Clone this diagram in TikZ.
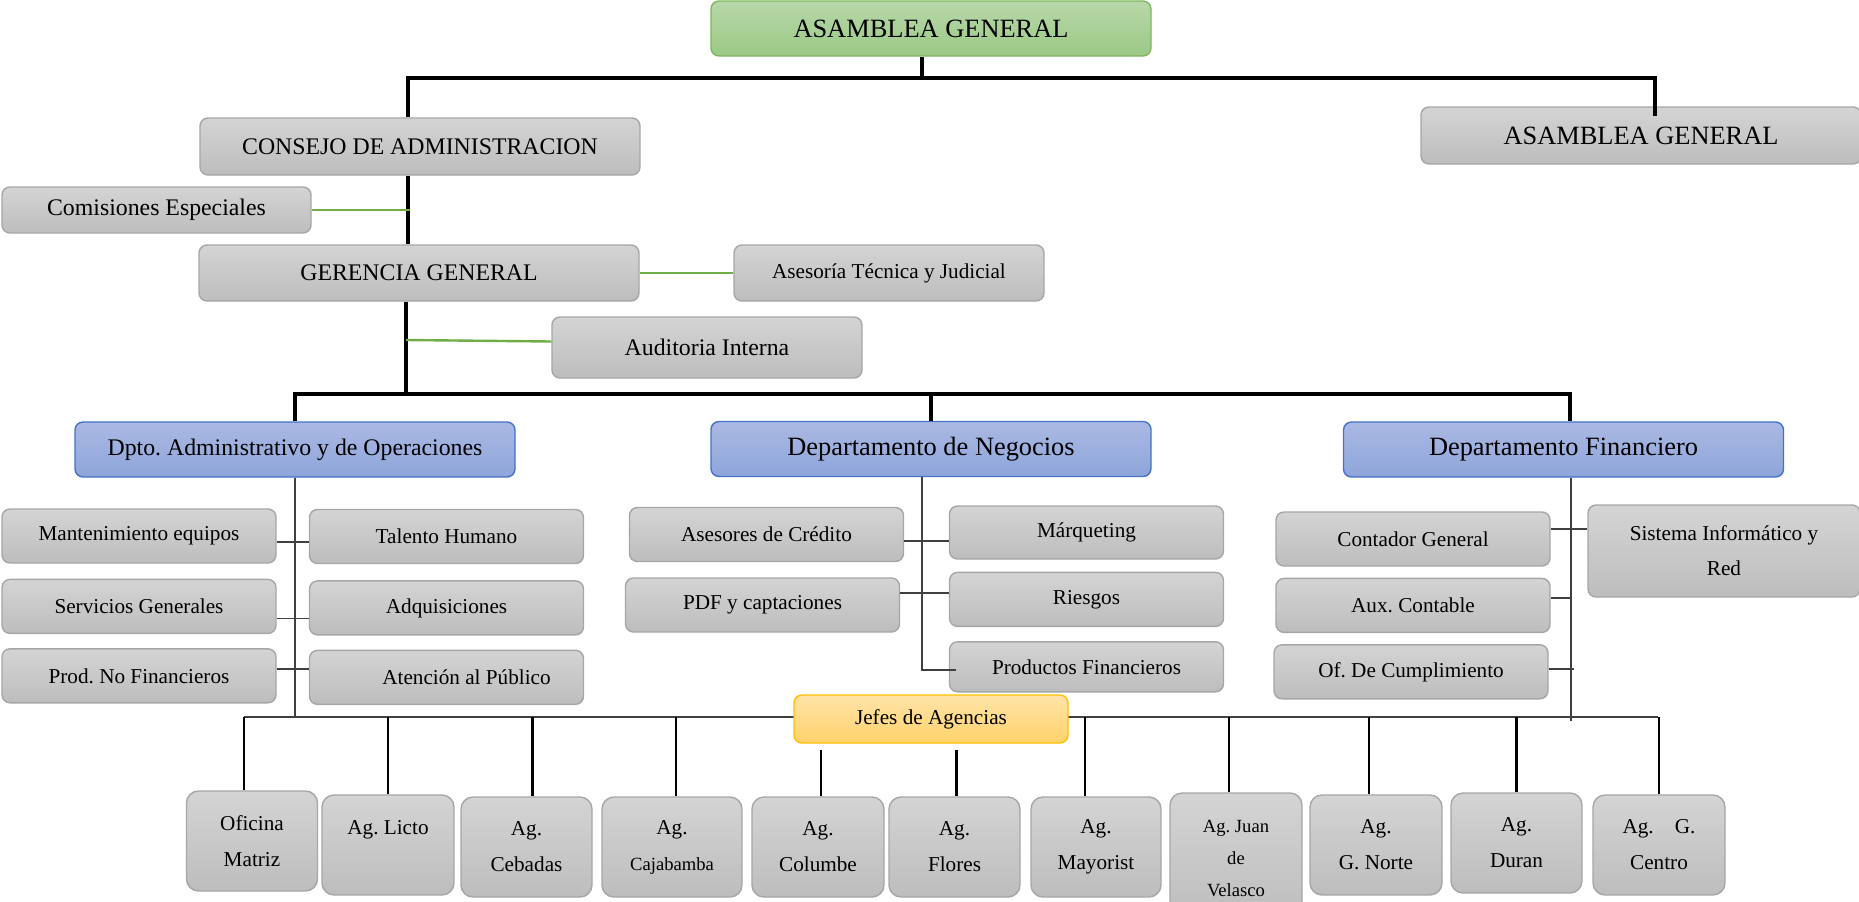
\documentclass[tikz,border=0pt]{standalone}
\usepackage{fontspec}
\setmainfont{Liberation Serif}
\usepackage{xcolor}
\usetikzlibrary{positioning}
\frenchspacing

\definecolor{boxGrayTop}{HTML}{D4D4D4}
\definecolor{boxGrayBot}{HTML}{BDBDBD}
\definecolor{boxGrayLine}{HTML}{A6A6A6}
\definecolor{boxGreenTop}{HTML}{B8D8AA}
\definecolor{boxGreenBot}{HTML}{9BC985}
\definecolor{boxGreenLine}{HTML}{7CB85E}
\definecolor{boxBlueTop}{HTML}{AAB9E3}
\definecolor{boxBlueBot}{HTML}{8EA5DA}
\definecolor{boxBlueLine}{HTML}{4472C4}
\definecolor{boxYellowTop}{HTML}{FFE3A8}
\definecolor{boxYellowBot}{HTML}{FFD36B}
\definecolor{boxYellowLine}{HTML}{FFC000}
\definecolor{lineGreen}{HTML}{70AD47}
\definecolor{lineDark}{HTML}{404040}

\newcommand{\txtbig}{\fontsize{13.2}{15.8}\selectfont}
\newcommand{\txtmid}{\fontsize{11.9}{14.3}\selectfont}
\newcommand{\txtsmall}{\fontsize{10.6}{12.7}\selectfont}
\newcommand{\txttiny}{\fontsize{9.3}{11.2}\selectfont}

\begin{document}
\begin{tikzpicture}[x=0.5pt,y=0.5pt,
      box_gray/.style={
         rectangle,
         rounded corners=4pt,
         draw=boxGrayLine,
         line width=0.7pt,
         top color=boxGrayTop,
         bottom color=boxGrayBot,
         inner sep=2pt,
         align=center,
         minimum width=137pt,
         minimum height=27pt,
         font=\txtsmall},
      box_green/.style={
         box_gray,
         draw=boxGreenLine,
         top color=boxGreenTop,
         bottom color=boxGreenBot,
         minimum width=220pt,
         minimum height=27.5pt,
         font=\txtbig},
      box_blue/.style={
         box_gray,
         draw=boxBlueLine,
         top color=boxBlueTop,
         bottom color=boxBlueBot,
         minimum width=220pt,
         minimum height=27.5pt,
         font=\txtbig},
      box_yellow/.style={
         box_gray,
         draw=boxYellowLine,
         top color=boxYellowTop,
         bottom color=boxYellowBot,
         minimum height=24pt},
      box_agency/.style={
         box_gray,
         rounded corners=6pt,
         minimum width=65.5pt,
         minimum height=50pt,
         font={\fontsize{10.6}{18}\selectfont}},
      line_thick/.style={line width=1.75pt, black},
      line_green/.style={line width=1.2pt, lineGreen},
      line_thin/.style={line width=0.9pt, lineDark},
      line_drop/.style={line width=1.2pt, black},
]
      \useasboundingbox (0,0) rectangle (1859,-901);

      %direccion
      \node[box_green] (asamblea) at (931,-28.5) {ASAMBLEA GENERAL};
      \node[box_gray,font=\txtmid,minimum width=220pt,minimum height=28.5pt] (consejo) at (420,-146.5) {CONSEJO DE ADMINISTRACION};
      \node[box_gray,font=\txtbig,minimum width=220pt,minimum height=28.5pt] (asamblea2) at (1641,-135.5) {ASAMBLEA GENERAL};
      \node[box_gray,font=\txtmid,minimum width=154.5pt,minimum height=23pt] (comisiones) at (156.5,-210) {Comisiones Especiales};
      \node[box_gray,font=\txtmid,minimum width=220pt,minimum height=28pt] (gerencia) at (419,-273) {GERENCIA GENERAL};
      \node[box_gray,minimum width=155pt,minimum height=28pt] (asesoria) at (889,-273) {Asesoría Técnica y Judicial};
      \node[box_gray,font=\txtmid,minimum width=155pt,minimum height=30.5pt] (auditoria) at (707,-347.5) {Auditoria Interna};

      %departamentos
      \node[box_blue,font=\txtmid] (adm) at (295,-449.5) {Dpto. Administrativo y de Operaciones};
      \node[box_blue] (neg) at (931,-449) {Departamento de Negocios};
      \node[box_blue] (fin) at (1563.5,-449.5) {Departamento Financiero};

      %administrativo
      \node[box_gray] (mant) at (139,-536) {Mantenimiento equipos};
      \node[box_gray,below=7.5pt of mant] (serv) {Servicios Generales};
      \node[box_gray,below=7pt of serv] (prod) {Prod. No Financieros};
      \node[box_gray] (talento) at (446.5,-536.5) {Talento Humano};
      \node[box_gray,below=8pt of talento] (adq) {Adquisiciones};
      \node[box_gray,below=7pt of adq] (aten) {\hspace*{20pt}Atención al Público};

      %negocios
      \node[box_gray] (asesores) at (766.5,-534.5) {Asesores de Crédito};
      \node[box_gray] (pdf) at (762.5,-605) {PDF y captaciones};
      \node[box_gray,minimum height=26.5pt] (marketing) at (1086.5,-532.5) {Márqueting};
      \node[box_gray,below=6pt of marketing] (riesgos) {Riesgos};
      \node[box_gray,minimum height=25pt,below=7pt of riesgos] (productos) {Productos Financieros};

      %financiero
      \node[box_gray] (contador) at (1413,-539) {Contador General};
      \node[box_gray,below=5.5pt of contador] (aux) {Aux. Contable};
      \node[box_gray,below=5.5pt of aux,xshift=-1pt] (ofcump) {Of. De Cumplimiento};
      \node[box_gray,minimum width=136pt,minimum height=46pt,font={\fontsize{10.6}{17.5}\selectfont}] (sistema) at (1724,-551) {Sistema Informático y\\Red};

      %agencias
      \foreach \n/\x/\y/\w/\txt in {%
        matriz/252/841/65.5/Oficina\\Matriz,
        licto/388/845/66/Ag. Licto\\\mbox{},
        cebadas/526.5/847/65.5/Ag.\\Cebadas,
        cajabamba/672/847/70/Ag.\\{\txttiny Cajabamba},
        columbe/818/847/66/Ag.\\Columbe,
        flores/954.5/847/65.5/Ag.\\Flores,
        mayorist/1096/847/65/Ag.\\Mayorist,
        norte/1376/845/66/Ag.\\G. Norte,
        duran/1516.5/843/65.5/Ag.\\Duran,
        centro/1659/845/66/Ag.\quad G.\\Centro}
        \node[box_agency,minimum width=\w pt] (\n) at (\x,-\y) {\txt};
      \node[box_agency,minimum width=66pt,minimum height=65pt,font={\fontsize{9.3}{16}\selectfont}] (juan) at (1236,-858) {Ag. Juan\\de\\Velasco};

      \coordinate (jtop) at (922,-78);
      \coordinate (jmid) at (406,-394);
      \coordinate (jcom) at (410,-210);
      \coordinate (jaud) at (406,-340);
      \coordinate (admEnd) at (295,-717);
      \coordinate (finEnd) at (1571,-721);
      \coordinate (busL) at (244,-717);
      \coordinate (busR) at (1658,-717);

      %lineas principales
      \draw[line_thick] (asamblea.south -| jtop) -- (jtop);
      \draw[line_thick] ([xshift=-6pt]consejo.north) |- (jtop) -| ([xshift=7pt]asamblea2.north) -- ++(0,-10);
      \draw[line_thick] ([xshift=-6pt]consejo.south) -- ([xshift=-6pt]consejo.south |- gerencia.north);
      \draw[line_thick] (gerencia.south -| jmid) -- (jmid);
      \draw[line_thick] (adm.north) |- (jmid) -| ([xshift=3.25pt]fin.north);
      \draw[line_thick] (neg.north) -- (neg.north |- jmid);

      %asesores de la gerencia
      \draw[line_green] (comisiones.east) -- (jcom);
      \draw[line_green] (gerencia.east) -- (asesoria.west);
      \draw[line_green] (jaud) -- ([yshift=3pt]auditoria.west);

      %ramas de los departamentos
      \draw[line_thin] (adm.south) -- (admEnd);
      \draw[line_thin] ([yshift=-3pt]mant.east) -- ([yshift=-3pt]mant.east -| talento.west);
      \draw[line_thin] ([yshift=-6pt]serv.east) -- ([yshift=-6pt]serv.east -| adq.west);
      \draw[line_thin] ([yshift=3.5pt]prod.east) -- ([yshift=3.5pt]prod.east -| aten.west);

      \draw[line_thin] ([xshift=-4.5pt]neg.south) |- ([xshift=3.5pt,yshift=-1.5pt]productos.west);
      \draw[line_thin] ([yshift=-3.25pt]asesores.east) -- ([yshift=-3.25pt]asesores.east -| marketing.west);
      \draw[line_thin] ([yshift=6pt]pdf.east) -- ([yshift=6pt]pdf.east -| riesgos.west);

      \draw[line_thin] ([xshift=3.75pt]fin.south) -- (finEnd);
      \draw[line_thin] ([yshift=5pt]contador.east) -- ([yshift=5pt]contador.east -| sistema.west);
      \draw[line_thin] ([yshift=3.75pt]aux.east) -- ([yshift=3.75pt]aux.east -| finEnd);
      \draw[line_thin] ([yshift=1.5pt]ofcump.east) -- ([yshift=1.5pt,xshift=1.5pt]ofcump.east -| finEnd);

      %agencias
      \draw[line_thin,line width=1.2pt] (busL) -- (busR);
      \node[box_yellow] (jefes) at (931,-719) {Jefes de Agencias};

      \foreach \n/\dx in {matriz/-4pt,licto/0pt,cebadas/3pt,cajabamba/2pt,mayorist/-5.5pt,juan/-3.5pt,norte/-3.5pt,duran/0pt,centro/0pt}
        \draw[line_drop] ([xshift=\dx]\n.north) -- ([xshift=\dx]\n.north |- busL);
      \draw[line_drop] ([xshift=1.5pt]columbe.north) -- ([xshift=1.5pt,yshift=-3pt]columbe.north |- jefes.south);
      \draw[line_drop] ([xshift=1pt]flores.north) -- ([xshift=1pt,yshift=-3pt]flores.north |- jefes.south);

\end{tikzpicture}
\end{document}
